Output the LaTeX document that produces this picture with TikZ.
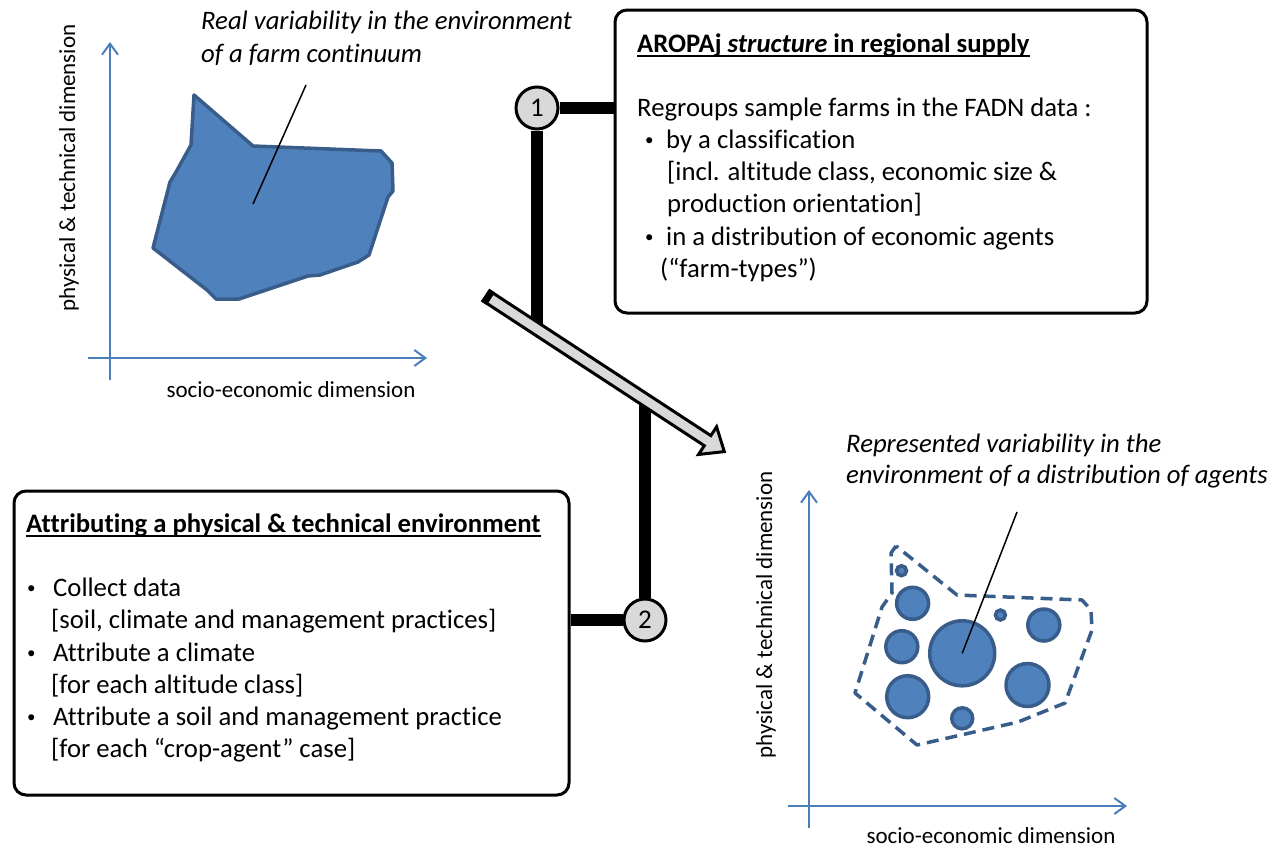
\documentclass[tikz,border=0pt]{standalone}
\usepackage{fontspec}
\setmainfont{Carlito}[Ligatures=NoCommon]
\usetikzlibrary{arrows.meta}
\definecolor{fillblue}{HTML}{4F81BD}
\definecolor{edgeblue}{HTML}{385D8A}
\definecolor{axisblue}{HTML}{4A7EBB}
\definecolor{lgray}{HTML}{D9D9D9}
\begin{document}
\begin{tikzpicture}[x=1pt,y=-1pt,
  body/.style={font=\fontsize{26.7}{32}\selectfont, inner sep=0pt, anchor=base west},
  bul/.style={font=\fontsize{17}{20}\selectfont, inner sep=0pt, anchor=base west, yshift=2.5pt},
  titletext/.style={body, font=\fontsize{26.7}{32}\selectfont\bfseries},
  itlabel/.style={body, font=\fontsize{26.7}{32}\selectfont\itshape},
  axlabel/.style={font=\fontsize{23}{28}\selectfont, inner sep=0pt, anchor=base},
  axisline/.style={axisblue, line width=2pt, -{Straight Barb[length=11pt,width=16pt]}},
  panel/.style={draw=black, line width=3pt, fill=white, rounded corners=12pt, anchor=north west, inner sep=0pt},
  numcirc/.style={circle, draw=black, line width=3pt, fill=lgray, minimum size=42pt, inner sep=0pt, font=\fontsize{27}{30}\selectfont},
  bar/.style={line width=12pt, black},
  bubble/.style={circle, draw=edgeblue, line width=3.5pt, fill=fillblue, inner sep=0pt},
  pointer/.style={black, line width=1.5pt},
  ulinestyle/.style={line width=1.8pt}
]
\useasboundingbox (0,0) rectangle (1284,849);

% ---------- left chart ----------
\coordinate (ly0) at (110,380);
\coordinate (ly1) at (110,42);
\coordinate (lx0) at (88,358);
\coordinate (lx1) at (427,358);
\draw[axisline] (ly0) -- (ly1);
\draw[axisline] (lx0) -- (lx1);
\node[axlabel] (lxl) at (291,397) {socio-economic dimension};
\node[axlabel, rotate=90] (lyl) at (75,168) {physical \& technical dimension};

\draw[draw=edgeblue, fill=fillblue, line width=3.5pt, line join=round]
  (194,95) -- (253,146) -- (381,151) -- (392,163) -- (393,191) -- (388,197)
  -- (369,255) -- (358,262) -- (320,275) -- (308,276) -- (239,299) -- (216,299)
  -- (207,290) -- (153,248) -- (170,182) -- (176,172) -- (191,145) -- cycle;

\node[itlabel] (rl1) at (201,29) {Real variability in the environment};
\node[itlabel] (rl2) at (201,62) {of a farm continuum};
\coordinate (lp0) at (306,85);
\coordinate (lp1) at (253,204);
\draw[pointer] (lp0) -- (lp1);

% ---------- right chart ----------
\coordinate (ry0) at (809,828);
\coordinate (ry1) at (809,490);
\coordinate (rx0) at (788,806);
\coordinate (rx1) at (1127,806);
\draw[axisline] (ry0) -- (ry1);
\draw[axisline] (rx0) -- (rx1);
\node[axlabel] (rxl) at (991,843) {socio-economic dimension};
\node[axlabel, rotate=90] (ryl) at (772,615) {physical \& technical dimension};

\draw[draw=edgeblue, line width=3.5pt, dash pattern=on 12pt off 7pt, line join=round]
  (896,546) -- (891,553) -- (892,593) -- (882,607) -- (855,693) -- (917,745)
  -- (1018,722) -- (1065,703) -- (1092,630) -- (1091,610) -- (1082,600)
  -- (957,595) -- cycle;

\node[bubble, minimum size=10pt] (b1) at (901.5,570.7) {};
\node[bubble, minimum size=32pt] (b2) at (912.6,603.3) {};
\node[bubble, minimum size=32pt] (b3) at (901.8,646.7) {};
\node[bubble, minimum size=42pt] (b4) at (907.7,696.7) {};
\node[bubble, minimum size=65pt] (b5) at (962.2,653.3) {};
\node[bubble, minimum size=10pt] (b6) at (1000.4,615) {};
\node[bubble, minimum size=32pt] (b7) at (1043.8,625) {};
\node[bubble, minimum size=43pt] (b8) at (1027.5,685) {};
\node[bubble, minimum size=21pt] (b9) at (962.2,718.3) {};

\node[itlabel] (rr1) at (846,452) {Represented variability in the};
\node[itlabel] (rr2) at (846,483) {environment of a distribution of agents};
\coordinate (rp0) at (1017,512);
\draw[pointer] (rp0) -- (b5.center);

% ---------- boxes ----------
\node[panel, minimum width=532pt, minimum height=303pt] (box1) at (613.5,8.5) {};
\node[titletext] (t1) at (637,52) {AROPAj \textit{structure} in regional supply};
\draw[ulinestyle] ([yshift=-4pt]t1.base west) -- ([yshift=-4pt]t1.base east);
\node[body] (a1) at (637,116) {Regroups sample farms in the FADN data :};
\node[bul] (a2b) at (645,148) {•};
\node[body] (a2) at (666,148) {by a classification};
\node[body] (a3) at (667,180) {[incl. altitude class, economic size \&};
\node[body] (a4) at (667,212) {production orientation]};
\node[bul] (a5b) at (645,245) {•};
\node[body] (a5) at (666,245) {in a distribution of economic agents};
\node[body] (a6) at (660,277) {(“farm-types”)};

\node[panel, minimum width=555pt, minimum height=304pt] (box2) at (12.5,489.5) {};
\node[titletext] (t2) at (26,532) {Attributing a physical \& technical environment};
\draw[ulinestyle] ([yshift=-4pt]t2.base west) -- ([yshift=-4pt]t2.base east);
\node[bul] (c1b) at (27,596) {•};
\node[body] (d1) at (53,596) {Collect data};
\node[body] (d2) at (51,628) {[soil, climate and management practices]};
\node[bul] (c2b) at (27,661) {•};
\node[body] (d3) at (53,661) {Attribute a climate};
\node[body] (d4) at (51,693) {[for each altitude class]};
\node[bul] (c3b) at (27,725) {•};
\node[body] (d5) at (53,725) {Attribute a soil and management practice};
\node[body] (d6) at (51,757) {[for each “crop-agent” case]};

% ---------- numbered connectors ----------
\coordinate (j1) at (537,330);
\coordinate (j2) at (645,396);
\node[numcirc] (n1) at (537,108) {1};
\node[numcirc] (n2) at (645,620) {2};
\draw[bar] (n1.east) -- (n1 -| box1.west);
\draw[bar] (n1.south) -- (j1);
\draw[bar] (n2.west) -- (n2 -| box2.east);
\draw[bar] (n2.north) -- (j2);

% ---------- big transition arrow ----------
\begin{scope}[shift={(485,295)}, rotate=-33.2]
  \draw[fill=lgray, line width=3pt, line join=miter]
    (2,-6) -- (266,-6) -- (266,-16.5) -- (286,0) -- (266,16.5) -- (266,6) -- (2,6) -- cycle;
  \fill[black] (0,-7.5) rectangle (7,7.5);
\end{scope}
\end{tikzpicture}
\end{document}
